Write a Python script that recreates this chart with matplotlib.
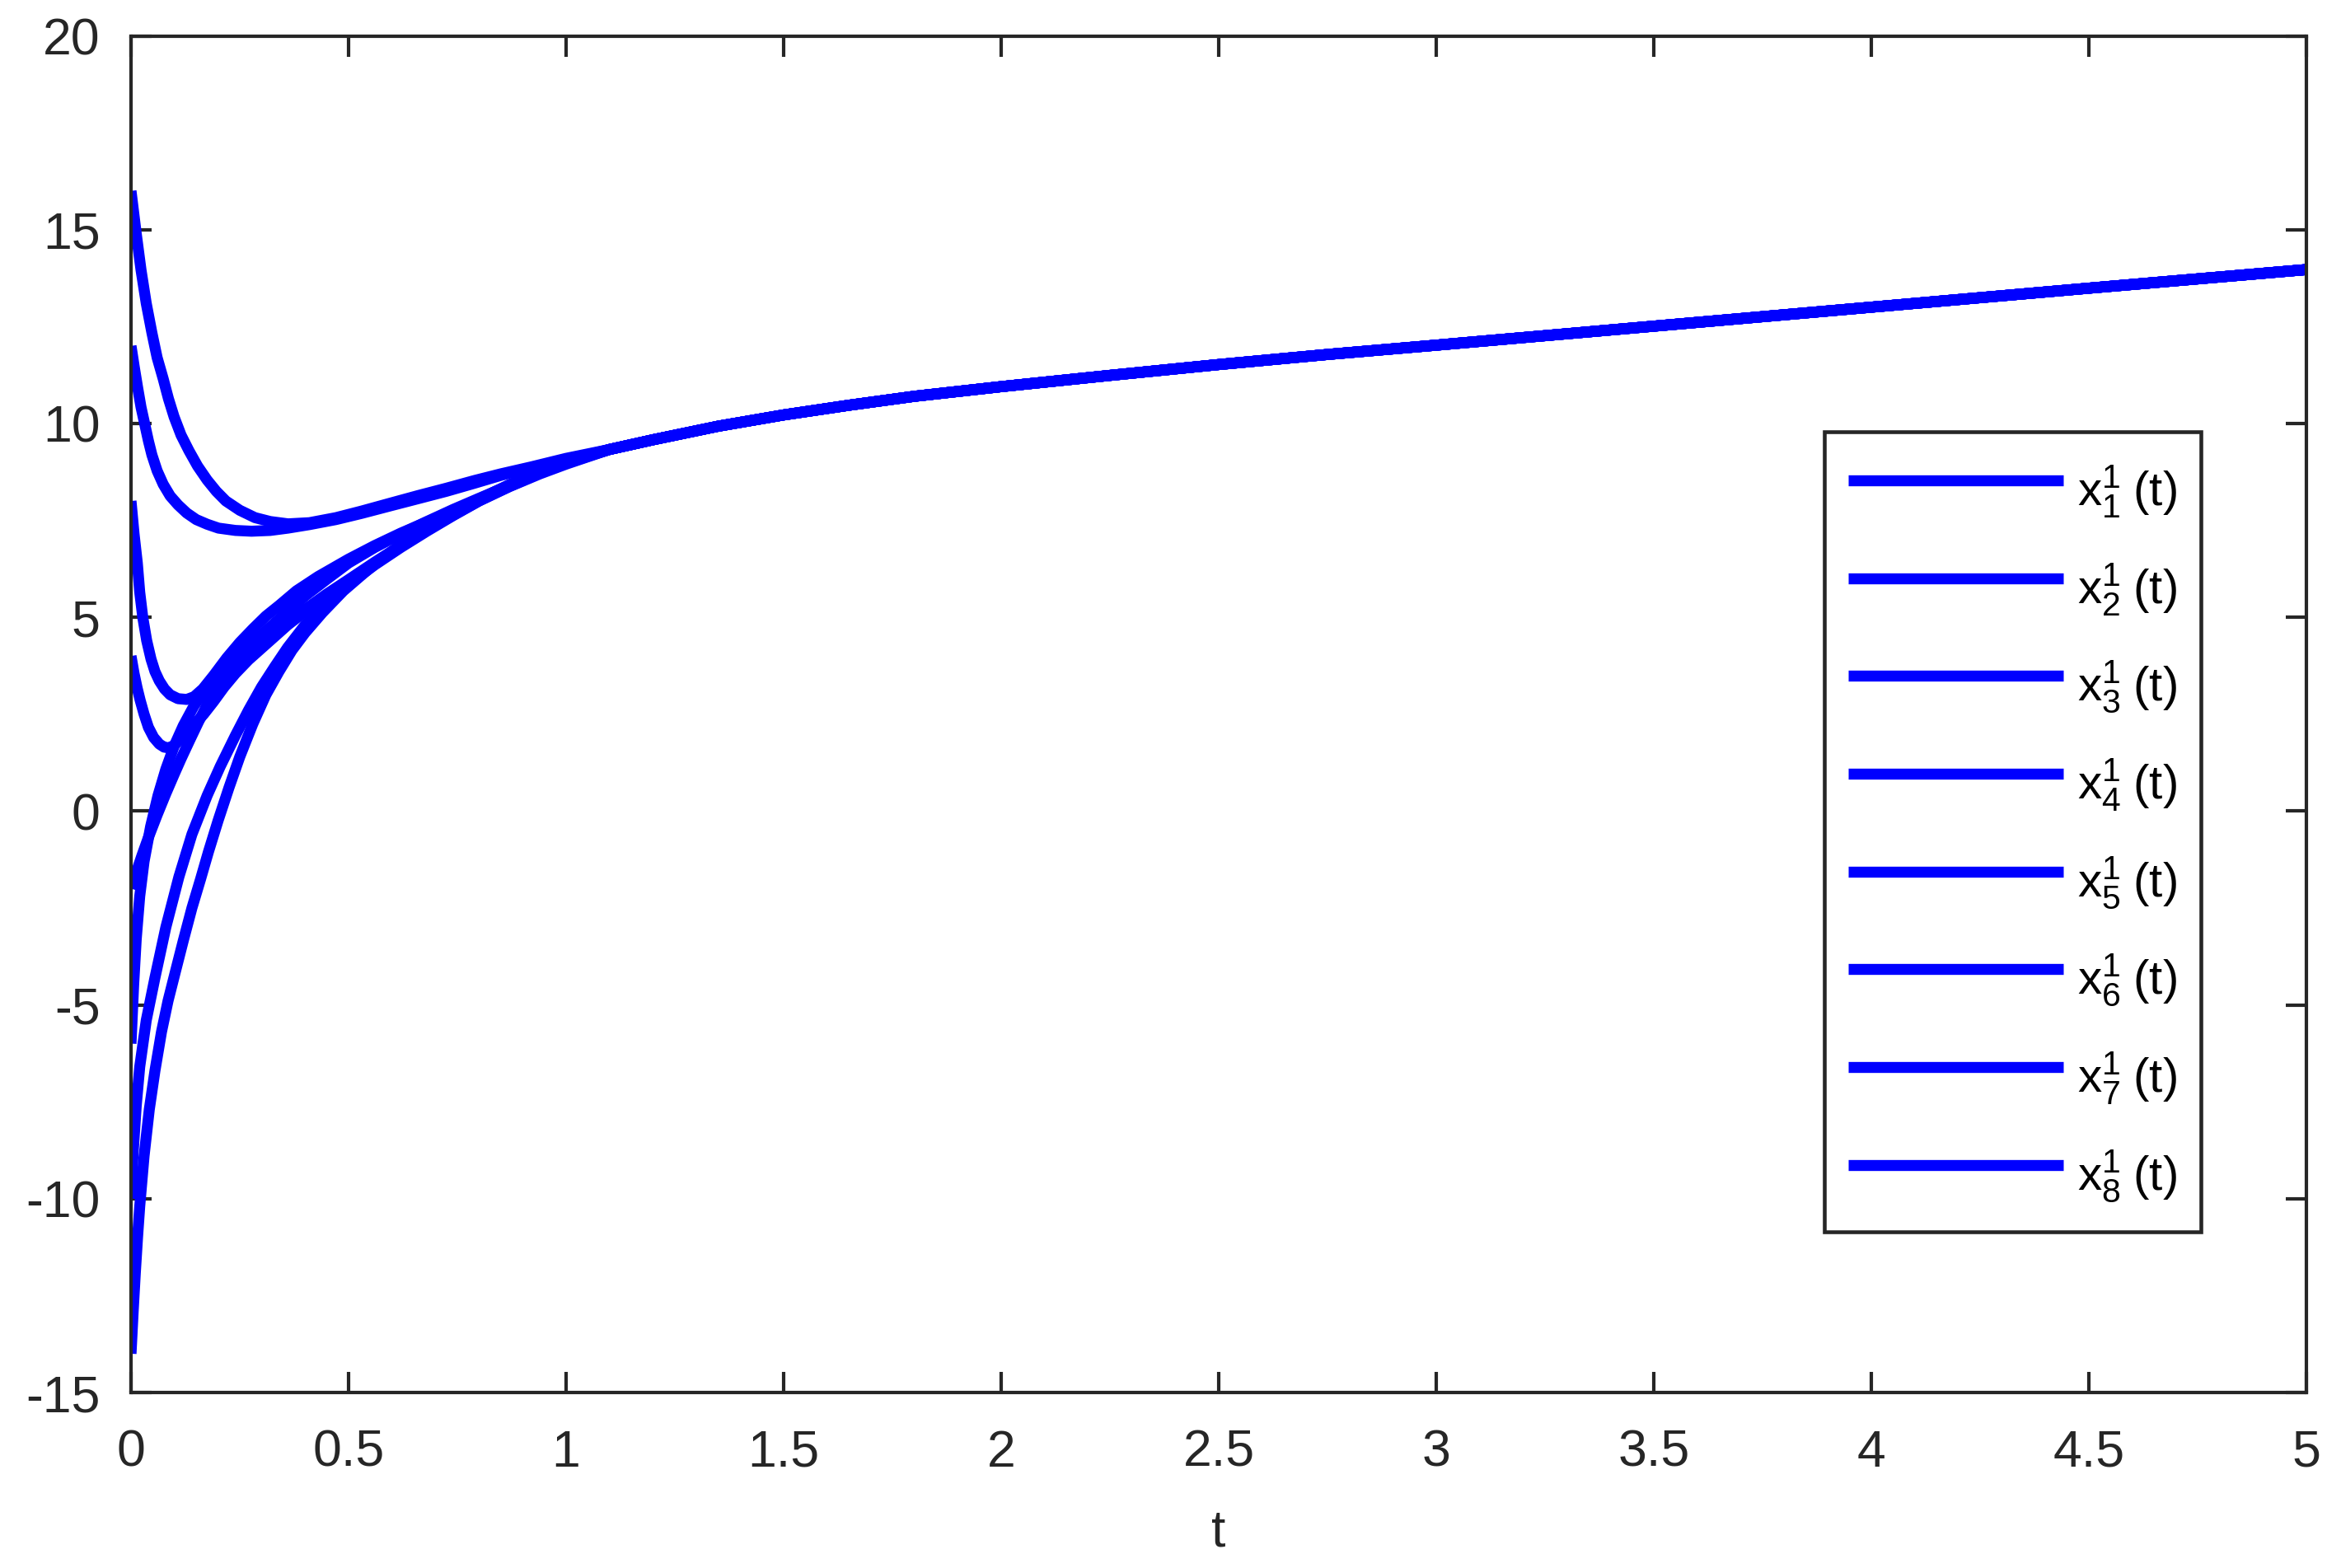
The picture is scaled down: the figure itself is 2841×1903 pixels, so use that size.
import matplotlib
matplotlib.use("Agg")
import matplotlib.pyplot as plt

plt.rcParams['font.family'] = ['Liberation Sans', 'DejaVu Sans']
plt.rcParams['mathtext.fontset'] = 'custom'
plt.rcParams['mathtext.rm'] = 'Liberation Sans'
plt.rcParams['mathtext.it'] = 'Liberation Sans'
plt.rcParams['mathtext.default'] = 'regular'

# ---- data ----
# common (converged) trajectory after t = 1
t_tail = [1.1, 1.2, 1.35, 1.5, 1.65, 1.8, 2.0, 2.25, 2.5, 2.75, 3.0, 3.5, 4.0, 4.5, 5.0]
v_tail = [9.33, 9.58, 9.93, 10.22, 10.47, 10.70, 10.95, 11.24, 11.52, 11.78, 12.02, 12.51, 13.00, 13.49, 13.97]

# transient parts, t in [0, 1]
t_x1 = [0, 0.012, 0.023, 0.035, 0.048, 0.06, 0.074, 0.086, 0.099, 0.115, 0.133, 0.153, 0.175, 0.196,
        0.218, 0.25, 0.285, 0.32, 0.361, 0.41, 0.471, 0.53, 0.598, 0.66, 0.725, 0.79, 0.85, 0.92, 1.0]
v_x1 = [16, 14.9, 13.96, 13.1, 12.34, 11.7, 11.15, 10.64, 10.17, 9.7, 9.30, 8.9, 8.54, 8.25,
        8.0, 7.76, 7.57, 7.47, 7.41, 7.44, 7.57, 7.74, 7.95, 8.14, 8.33, 8.53, 8.70, 8.88, 9.10]

t_x2 = [0, 0.008, 0.015, 0.023, 0.032, 0.04, 0.048, 0.06, 0.074, 0.09, 0.108, 0.128, 0.150, 0.175,
        0.201, 0.24, 0.277, 0.32, 0.361, 0.41, 0.471, 0.53, 0.598, 0.66, 0.725, 0.79, 0.85, 0.92, 1.0]
v_x2 = [12, 11.42, 10.94, 10.42, 9.96, 9.55, 9.19, 8.78, 8.43, 8.13, 7.90, 7.69, 7.52, 7.40,
        7.30, 7.24, 7.22, 7.24, 7.30, 7.39, 7.52, 7.68, 7.88, 8.06, 8.25, 8.46, 8.66, 8.86, 9.06]

t_x3 = [0, 0.007, 0.0145, 0.02, 0.027, 0.036, 0.046, 0.055, 0.065, 0.077, 0.09, 0.108, 0.128, 0.145,
        0.165, 0.19, 0.22, 0.25, 0.28, 0.31, 0.34, 0.38, 0.43, 0.5, 0.56, 0.62, 0.68, 0.74, 0.8,
        0.87, 0.94, 1.0]
v_x3 = [8, 7.15, 6.4, 5.65, 5.0, 4.4, 3.92, 3.6, 3.36, 3.15, 3.0, 2.9, 2.88, 2.95,
        3.15, 3.5, 3.95, 4.35, 4.7, 5.03, 5.3, 5.68, 6.05, 6.5, 6.85, 7.17, 7.46, 7.74, 8.03,
        8.38, 8.72, 9.00]

t_x4 = [0, 0.007, 0.014, 0.021, 0.03, 0.04, 0.052, 0.065, 0.076, 0.087, 0.1, 0.12, 0.143, 0.167,
        0.19, 0.214, 0.24, 0.27, 0.3, 0.33, 0.36, 0.4, 0.45, 0.5, 0.56, 0.62, 0.68, 0.74, 0.8,
        0.87, 0.94, 1.0]
v_x4 = [4, 3.55, 3.18, 2.86, 2.5, 2.16, 1.9, 1.73, 1.65, 1.63, 1.7, 1.95, 2.2, 2.5,
        2.83, 3.2, 3.55, 3.9, 4.2, 4.5, 4.8, 5.15, 5.55, 5.95, 6.4, 6.85, 7.3, 7.7, 8.05,
        8.42, 8.75, 9.0]

t_x5 = [0, 0.01, 0.025, 0.04, 0.06, 0.08, 0.1, 0.115, 0.135, 0.155, 0.18, 0.21, 0.24, 0.27,
        0.3, 0.33, 0.36, 0.4, 0.45, 0.5, 0.56, 0.62, 0.68, 0.74, 0.8, 0.87, 0.94, 1.0]
v_x5 = [-2, -1.65, -1.15, -0.68, -0.1, 0.45, 0.97, 1.35, 1.83, 2.3, 2.85, 3.4, 3.85, 4.22,
        4.55, 4.85, 5.15, 5.55, 5.98, 6.4, 6.8, 7.15, 7.47, 7.78, 8.07, 8.4, 8.72, 9.0]

t_x6 = [0, 0.006, 0.012, 0.02, 0.03, 0.045, 0.062, 0.08, 0.1, 0.12, 0.145, 0.17, 0.2, 0.23,
        0.26, 0.3, 0.33, 0.36, 0.4, 0.45, 0.5, 0.56, 0.62, 0.68, 0.74, 0.8, 0.87, 0.94, 1.0]
v_x6 = [-6, -4.5, -3.3, -2.2, -1.3, -0.4, 0.4, 1.08, 1.7, 2.2, 2.72, 3.12, 3.5, 3.8,
        4.05, 4.35, 4.6, 4.85, 5.2, 5.6, 5.97, 6.42, 6.85, 7.27, 7.68, 8.05, 8.42, 8.75, 9.0]

t_x7 = [0, 0.005, 0.012, 0.02, 0.035, 0.055, 0.08, 0.11, 0.14, 0.175, 0.205, 0.24, 0.27, 0.3,
        0.33, 0.36, 0.4, 0.45, 0.5, 0.56, 0.62, 0.68, 0.74, 0.8, 0.87, 0.94, 1.0]
v_x7 = [-10, -8.8, -7.6, -6.6, -5.4, -4.3, -3.0, -1.7, -0.6, 0.4, 1.15, 1.95, 2.6, 3.2,
        3.72, 4.22, 4.8, 5.35, 5.85, 6.35, 6.8, 7.22, 7.62, 8.0, 8.38, 8.72, 8.97]

t_x8 = [0, 0.005, 0.01, 0.015, 0.02, 0.03, 0.042, 0.055, 0.07, 0.085, 0.103, 0.12, 0.14, 0.16,
        0.178, 0.2, 0.225, 0.25, 0.28, 0.31, 0.34, 0.37, 0.4, 0.44, 0.488, 0.55, 0.614, 0.68,
        0.74, 0.8, 0.87, 0.94, 1.0]
v_x8 = [-14, -12.9, -11.9, -11.0, -10.2, -8.9, -7.7, -6.7, -5.7, -4.9, -4.1, -3.35, -2.5, -1.75,
        -1.05, -0.25, 0.6, 1.4, 2.25, 3.0, 3.6, 4.15, 4.6, 5.12, 5.68, 6.28, 6.82, 7.25,
        7.63, 8.0, 8.37, 8.7, 8.95]

series_t = [t_x1, t_x2, t_x3, t_x4, t_x5, t_x6, t_x7, t_x8]
series_v = [v_x1, v_x2, v_x3, v_x4, v_x5, v_x6, v_x7, v_x8]
labels = [r'$x_{%d}^{1}\;(t)$' % i for i in range(1, 9)]

x_ticks = [0, 0.5, 1, 1.5, 2, 2.5, 3, 3.5, 4, 4.5, 5]
x_ticklabels = ['0', '0.5', '1', '1.5', '2', '2.5', '3', '3.5', '4', '4.5', '5']
y_ticks = [-15, -10, -5, 0, 5, 10, 15, 20]
y_ticklabels = ['-15', '-10', '-5', '0', '5', '10', '15', '20']

# ---- figure ----
W, H, DPI = 2841, 1903, 300
fig = plt.figure(figsize=(W / DPI, H / DPI), dpi=DPI)
ax = fig.add_axes([159 / W, 1 - 1690 / H, (2799 - 159) / W, (1690 - 43.5) / H])

for tt, vv, lab in zip(series_t, series_v, labels):
    ax.plot(list(tt) + t_tail, list(vv) + v_tail, color='#0000ff', lw=3.2,
            solid_capstyle='butt', solid_joinstyle='round', label=lab)

ax.set_xlim(0, 5)
ax.set_ylim(-15, 20)
ax.set_xticks(x_ticks)
ax.set_xticklabels(x_ticklabels)
ax.set_yticks(y_ticks)
ax.set_yticklabels(y_ticklabels)

dark = '#262626'
for s in ax.spines.values():
    s.set_color(dark)
    s.set_linewidth(1.0)
ax.tick_params(direction='in', length=6, width=1.0, colors=dark, labelsize=15,
               top=True, right=True, pad=9)
ax.tick_params(axis='x', pad=10.5)
ax.set_xlabel('t', fontsize=15, color=dark, labelpad=9)

leg = ax.legend(loc='upper left', bbox_to_anchor=(0.7784, 0.7084), fontsize=14,
                handlelength=4.47, handleheight=1.8, labelspacing=0.62,
                handletextpad=0.3, borderpad=0.5, borderaxespad=0.0,
                fancybox=False, framealpha=1, edgecolor=dark)
leg.get_frame().set_linewidth(1.1)

fig.savefig('out.png', dpi=DPI)
